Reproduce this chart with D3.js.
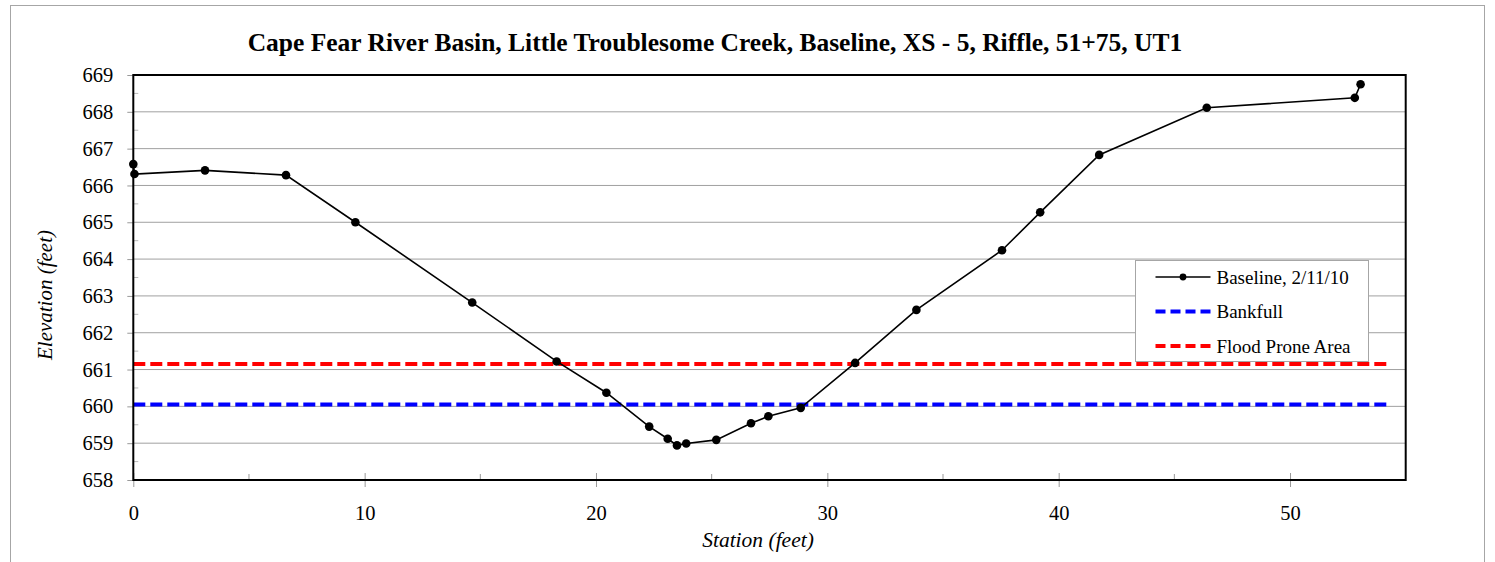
<!DOCTYPE html>
<html>
<head>
<meta charset="utf-8">
<script src="https://cdn.jsdelivr.net/npm/d3@7"></script>
<style>
  html, body { margin: 0; padding: 0; background: #fff; }
  svg text { font-family: "Liberation Serif", "Times New Roman", serif; fill: #000; }
</style>
</head>
<body>
<svg id="chart" width="1495" height="562"></svg>
<script>
// survey data: baseline cross-section
const station = [0, 0.05, 3.1, 6.6, 9.6, 14.65, 18.3, 20.45, 22.3, 23.1, 23.5, 23.9, 25.2, 26.7, 27.45, 28.85, 31.2, 33.85, 37.55, 39.2, 41.75, 46.4, 52.8, 53.05];
const elevation = [666.58, 666.31, 666.41, 666.28, 665.0, 662.82, 661.22, 660.37, 659.45, 659.12, 658.94, 658.99, 659.09, 659.54, 659.73, 659.96, 661.18, 662.62, 664.24, 665.27, 666.83, 668.11, 668.38, 668.75];

const bankfullX = [0, 54.2];
const bankfullY = [660.05, 660.05];
const floodX = [0, 54.2];
const floodY = [661.15, 661.15];

const xTicks = [0, 10, 20, 30, 40, 50];
const xMinor = [5, 15, 25, 35, 45];
const yTicks = [658, 659, 660, 661, 662, 663, 664, 665, 666, 667, 668, 669];

const legendLabels = ["Baseline, 2/11/10", "Bankfull", "Flood Prone Area"];

const svg = d3.select("#chart");
const margin = { left: 133.3, right: 1405.7, top: 75, bottom: 480 };

const x = d3.scaleLinear().domain([0, 55]).range([margin.left, margin.right]);
const y = d3.scaleLinear().domain([658, 669]).range([margin.bottom, margin.top]);

// outer chart frame
svg.append("rect")
  .attr("x", 10.5).attr("y", 5.5)
  .attr("width", 1474).attr("height", 600)
  .attr("fill", "none").attr("stroke", "#a6a6a6").attr("stroke-width", 1);

// title
svg.append("text")
  .attr("x", 715).attr("y", 51)
  .attr("text-anchor", "middle")
  .attr("font-size", "25.5px").attr("font-weight", "bold")
  .text("Cape Fear River Basin, Little Troublesome Creek, Baseline, XS - 5, Riffle, 51+75, UT1");

// gridlines
svg.append("g")
  .selectAll("line")
  .data(yTicks)
  .join("line")
  .attr("x1", margin.left).attr("x2", margin.right)
  .attr("y1", d => y(d)).attr("y2", d => y(d))
  .attr("stroke", "#a0a0a0").attr("stroke-width", 1);

// y axis
const yAxis = svg.append("g")
  .attr("transform", `translate(${margin.left},0)`)
  .call(d3.axisLeft(y).tickValues(yTicks).tickSize(6).tickPadding(14).tickFormat(d3.format("d")));
yAxis.select(".domain").remove();
yAxis.selectAll(".tick line").attr("stroke", "#999");
yAxis.selectAll(".tick text").attr("font-size", "20.5px").attr("font-family", "Liberation Serif");

svg.append("g")
  .selectAll("line")
  .data(d3.range(658.5, 669, 1))
  .join("line")
  .attr("x1", margin.left).attr("x2", margin.left + 5)
  .attr("y1", d => y(d)).attr("y2", d => y(d))
  .attr("stroke", "#bbb");

// x axis
const xAxis = svg.append("g")
  .attr("transform", `translate(0,${margin.bottom})`)
  .call(d3.axisBottom(x).tickValues(xTicks).tickSize(7).tickPadding(18).tickFormat(d3.format("d")));
xAxis.select(".domain").remove();
xAxis.selectAll(".tick line").attr("y1", -7).attr("stroke", "#999");
xAxis.selectAll(".tick text").attr("font-size", "20.5px").attr("font-family", "Liberation Serif");

svg.append("g")
  .selectAll("line")
  .data(xMinor)
  .join("line")
  .attr("x1", d => x(d)).attr("x2", d => x(d))
  .attr("y1", margin.bottom - 6).attr("y2", margin.bottom)
  .attr("stroke", "#999");

// axis titles
svg.append("text")
  .attr("x", 758).attr("y", 547)
  .attr("text-anchor", "middle")
  .attr("font-size", "21.5px").attr("font-style", "italic")
  .text("Station (feet)");

svg.append("text")
  .attr("transform", "translate(52,295) rotate(-90)")
  .attr("text-anchor", "middle")
  .attr("font-size", "21px").attr("font-style", "italic")
  .text("Elevation (feet)");

// reference lines
const flat = (xs, ys) => d3.line().x((d, i) => x(xs[i])).y((d, i) => y(ys[i]))(xs);

svg.append("path")
  .attr("d", flat(floodX, floodY))
  .attr("fill", "none").attr("stroke", "#ff0000")
  .attr("stroke-width", 4).attr("stroke-dasharray", "12,5");

svg.append("path")
  .attr("d", flat(bankfullX, bankfullY))
  .attr("fill", "none").attr("stroke", "#0000ff")
  .attr("stroke-width", 4).attr("stroke-dasharray", "12,5");

// baseline profile
const pts = station.map((s, i) => [s, elevation[i]]);
svg.append("path")
  .datum(pts)
  .attr("d", d3.line().x(d => x(d[0])).y(d => y(d[1])))
  .attr("fill", "none").attr("stroke", "#000").attr("stroke-width", 1.6);

svg.append("g")
  .selectAll("circle")
  .data(pts)
  .join("circle")
  .attr("cx", d => x(d[0])).attr("cy", d => y(d[1]))
  .attr("r", 4.3).attr("fill", "#000");

// plot border
svg.append("rect")
  .attr("x", margin.left).attr("y", margin.top)
  .attr("width", margin.right - margin.left).attr("height", margin.bottom - margin.top)
  .attr("fill", "none").attr("stroke", "#000").attr("stroke-width", 2);

// legend
const lg = svg.append("g").attr("transform", "translate(1135.5,260.5)");
lg.append("rect")
  .attr("width", 233).attr("height", 101)
  .attr("fill", "#fff").attr("stroke", "#a6a6a6");

const rowY = [16.5, 51, 85.5];
legendLabels.forEach((label, i) => {
  const row = lg.append("g").attr("transform", `translate(0,${rowY[i]})`);
  if (i === 0) {
    row.append("line").attr("x1", 20).attr("x2", 75)
      .attr("stroke", "#000").attr("stroke-width", 1.6);
    row.append("circle").attr("cx", 47.5).attr("r", 3.4).attr("fill", "#000");
  } else {
    row.append("line").attr("x1", 20).attr("x2", 75)
      .attr("stroke", i === 1 ? "#0000ff" : "#ff0000")
      .attr("stroke-width", 4).attr("stroke-dasharray", "10,5");
  }
  row.append("text")
    .attr("x", 81).attr("y", 6.5)
    .attr("font-size", "19px")
    .text(label);
});
</script>
</body>
</html>
